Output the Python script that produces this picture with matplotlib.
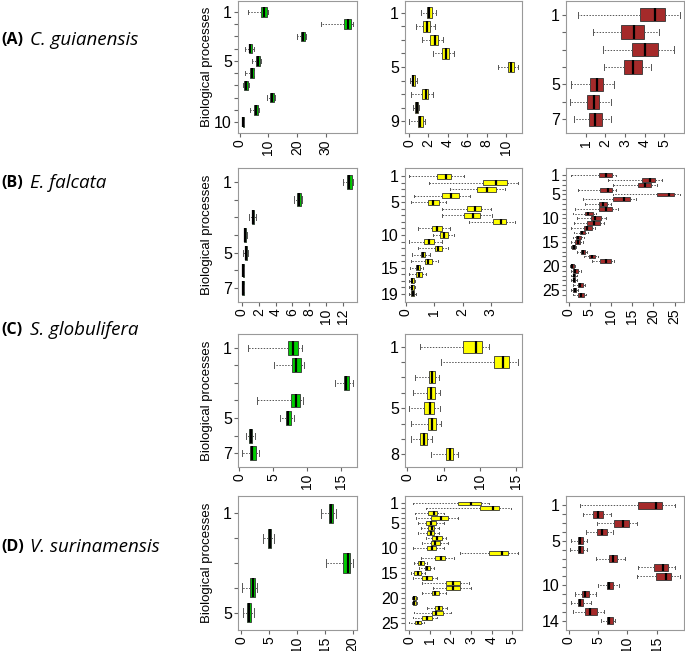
import matplotlib.pyplot as plt

plt.rcParams['font.family'] = ['Liberation Sans', 'DejaVu Sans']

# each row = one biological process: low whisker, Q1, median, Q3, high whisker
A1 = [[2.9, 7.4, 8.5, 9.6, 10.0], [28.2, 36.5, 37.8, 39.0, 39.4], [19.9, 21.5, 22.1, 22.8, 23.2],
      [1.9, 3.1, 3.7, 4.4, 4.9], [4.2, 5.7, 6.3, 7.0, 7.3], [1.9, 3.5, 4.1, 4.8, 5.1],
      [1.0, 1.5, 2.1, 2.7, 3.1], [9.6, 10.4, 11.1, 11.8, 12.3], [3.7, 5.0, 5.7, 6.4, 6.7],
      [0.9, 1.0, 1.2, 1.4, 1.5]]
A2 = [[1.27, 1.83, 2.1, 2.37, 2.77], [0.67, 1.43, 1.83, 2.17, 2.7], [1.37, 2.2, 2.67, 3.0, 3.53],
      [2.5, 3.4, 3.77, 4.13, 4.67], [9.13, 10.2, 10.5, 10.8, 11.2], [0.1, 0.27, 0.4, 0.6, 0.77],
      [0.2, 1.37, 1.7, 1.97, 2.43], [0.4, 0.6, 0.77, 0.93, 1.07], [0.03, 0.9, 1.17, 1.47, 1.63]]
A3 = [[0.62, 3.78, 4.53, 5.05, 5.78], [1.38, 2.8, 3.45, 3.95, 4.75], [1.87, 3.35, 4.03, 4.68, 5.5],
      [1.92, 2.95, 3.4, 3.87, 4.33], [0.25, 1.22, 1.57, 1.87, 2.45], [0.22, 1.05, 1.42, 1.7, 2.3],
      [0.43, 1.15, 1.47, 1.83, 2.3]]

B1 = [[12.0, 12.46, 12.73, 13.05, 13.16], [6.2, 6.6, 6.8, 7.0, 7.1], [0.86, 1.17, 1.33, 1.48, 1.72],
      [0.2, 0.27, 0.39, 0.5, 0.6], [0.08, 0.35, 0.47, 0.6, 0.74], [0.05, 0.08, 0.16, 0.23, 0.27],
      [0.05, 0.06, 0.12, 0.18, 0.22]]
B2 = [[0.12, 1.1, 1.4, 1.6, 2.07], [0.83, 2.73, 3.17, 3.58, 3.95], [1.55, 2.5, 2.86, 3.2, 3.5],
      [0.29, 1.29, 1.6, 1.87, 2.28], [0.19, 0.77, 0.97, 1.17, 1.4], [1.29, 2.16, 2.45, 2.67, 3.0],
      [1.26, 2.07, 2.38, 2.62, 3.06], [2.24, 3.09, 3.35, 3.55, 3.85], [0.44, 0.91, 1.1, 1.28, 1.55],
      [0.97, 1.2, 1.34, 1.49, 1.7], [0.12, 0.64, 0.83, 1.0, 1.26], [0.41, 1.02, 1.14, 1.28, 1.47],
      [0.23, 0.53, 0.62, 0.69, 0.85], [0.19, 0.67, 0.79, 0.92, 1.14], [0.15, 0.34, 0.42, 0.5, 0.62],
      [0.12, 0.36, 0.47, 0.56, 0.7], [0.12, 0.17, 0.21, 0.27, 0.33], [0.12, 0.17, 0.22, 0.27, 0.33],
      [0.12, 0.18, 0.24, 0.3, 0.35]]
B3 = [[0.47, 7.1, 8.7, 10.2, 11.2], [9.2, 17.4, 19.2, 20.5, 22.0], [10.5, 16.4, 18.0, 19.4, 20.9],
      [2.2, 7.5, 9.2, 10.2, 11.2], [10.5, 20.9, 23.7, 24.8, 26.2], [3.4, 10.4, 13.1, 14.5, 15.9],
      [3.9, 7.1, 8.0, 9.0, 10.0], [1.6, 7.1, 8.8, 10.2, 11.6], [1.0, 3.75, 4.5, 5.7, 6.5],
      [2.0, 5.2, 6.1, 7.7, 8.8], [1.25, 4.4, 5.9, 7.3, 8.3], [0.6, 3.6, 4.4, 5.5, 6.3],
      [1.25, 2.6, 3.1, 3.9, 4.5], [1.0, 1.8, 2.3, 2.97, 3.6], [0.6, 1.6, 2.2, 2.7, 3.4],
      [0.47, 0.8, 1.2, 1.6, 1.8], [2.0, 2.8, 3.4, 3.9, 4.4], [3.6, 4.9, 5.5, 6.25, 7.0],
      [5.5, 7.5, 8.8, 10.0, 10.8], [0.4, 0.6, 0.9, 1.25, 1.6], [0.47, 1.0, 1.6, 2.2, 2.8],
      [0.6, 1.0, 1.25, 1.6, 2.0], [0.6, 1.0, 1.25, 1.6, 1.95], [1.0, 2.2, 2.7, 3.4, 3.9],
      [0.6, 1.0, 1.4, 1.8, 2.2], [1.0, 2.2, 2.8, 3.6, 4.1]]

C1 = [[1.37, 7.17, 7.95, 8.68, 9.27], [5.12, 7.76, 8.34, 9.07, 9.5], [14.1, 15.37, 15.76, 16.2, 16.7],
      [2.6, 7.6, 8.44, 8.9, 9.37], [5.95, 6.88, 7.22, 7.66, 8.05], [1.07, 1.41, 1.7, 1.95, 2.3],
      [0.49, 1.56, 1.85, 2.54, 2.93]]
C2 = [[1.7, 7.6, 9.5, 10.3, 11.3], [4.6, 11.9, 13.2, 14.0, 15.2], [1.03, 2.95, 3.4, 3.84, 4.4],
      [0.71, 2.72, 3.3, 3.8, 4.46], [0.27, 2.23, 3.17, 3.7, 4.46], [0.45, 2.9, 3.4, 3.93, 4.6],
      [0.45, 1.79, 2.23, 2.72, 3.35], [3.26, 5.27, 5.94, 6.3, 6.96]]

D1 = [[14.4, 15.8, 16.1, 16.5, 17.0], [3.9, 4.8, 5.1, 5.4, 5.8], [15.3, 18.3, 19.2, 19.6, 20.0],
      [0.18, 1.6, 2.1, 2.5, 2.8], [0.3, 1.0, 1.4, 1.8, 2.3]]
D2 = [[0.19, 2.35, 2.98, 3.49, 3.89], [0.79, 3.46, 4.05, 4.37, 4.97], [0.27, 0.92, 1.22, 1.35, 1.67],
      [0.32, 1.06, 1.54, 1.87, 2.38], [0.4, 0.83, 1.06, 1.32, 1.67], [0.56, 0.9, 1.08, 1.22, 1.43],
      [0.44, 0.84, 1.03, 1.22, 1.43], [0.79, 1.11, 1.35, 1.59, 1.79], [0.63, 1.03, 1.24, 1.51, 1.87],
      [0.16, 0.87, 1.11, 1.3, 1.67], [2.46, 3.86, 4.49, 4.81, 5.27], [0.59, 1.24, 1.56, 1.75, 2.19],
      [0.21, 0.43, 0.56, 0.71, 0.87], [0.48, 0.75, 0.87, 1.0, 1.22], [0.08, 0.21, 0.4, 0.56, 0.76],
      [0.16, 0.63, 0.84, 1.08, 1.35], [0.6, 1.78, 2.11, 2.46, 2.89], [1.14, 1.78, 2.11, 2.46, 2.98],
      [0.6, 1.08, 1.27, 1.46, 1.78], [0.13, 0.16, 0.24, 0.32, 0.37], [0.13, 0.16, 0.24, 0.32, 0.37],
      [0.87, 1.27, 1.43, 1.59, 1.83], [0.21, 1.08, 1.32, 1.63, 2.03], [0.16, 0.6, 0.87, 1.08, 1.35],
      [0.0, 0.27, 0.43, 0.59, 0.71]]
D3 = [[1.85, 11.85, 14.8, 15.9, 18.1], [2.4, 4.2, 5.06, 5.9, 7.2], [4.9, 7.75, 9.3, 10.3, 11.6],
      [3.0, 4.9, 5.7, 6.46, 7.6], [0.34, 1.57, 1.97, 2.4, 3.1], [0.28, 1.57, 1.97, 2.4, 3.1],
      [4.66, 6.8, 7.47, 8.2, 9.55], [11.8, 14.5, 16.0, 17.0, 18.1], [11.6, 14.8, 16.6, 17.5, 18.9],
      [5.06, 6.46, 6.9, 7.47, 8.6], [1.0, 2.3, 2.8, 3.37, 4.66], [0.45, 1.57, 1.97, 2.5, 3.8],
      [0.73, 2.8, 3.7, 4.8, 5.96], [5.5, 6.46, 6.9, 7.47, 7.9]]

SPECIES = ["C. guianensis", "E. falcata", "S. globulifera", "V. surinamensis"]
PANEL_LETTERS = ["(A)", "(B)", "(C)", "(D)"]

GREEN = "#00cd00"
YELLOW = "#ffff00"
BROWN = "#a52a2a"

W, H = 685, 651
COLS = [(238, 357), (405, 522), (566, 684)]
ROWS = [(1, 133), (168, 302), (334, 467), (496, 630)]
LABEL_Y = [40, 183, 330, 547]


def draw_panel(ax, rows, color, xticks, shown):
    n = len(rows)
    stats = [dict(whislo=r[0], q1=r[1], med=r[2], q3=r[3], whishi=r[4]) for r in rows]
    ax.bxp(stats, positions=range(1, n + 1), widths=0.78, orientation='horizontal',
           showfliers=False, patch_artist=True, capwidths=0.35,
           boxprops=dict(facecolor=color, edgecolor='#333333', linewidth=0.6),
           medianprops=dict(color='black', linewidth=1.6),
           whiskerprops=dict(color='#555555', linewidth=0.7, linestyle=(0, (1.5, 1.5))),
           capprops=dict(color='#555555', linewidth=0.7))
    lo = min(r[0] for r in rows)
    hi = max(r[4] for r in rows)
    pad = 0.04 * (hi - lo)
    ax.set_xlim(lo - pad, hi + pad)
    ax.set_ylim(n + 0.5 + 0.04 * n, 0.5 - 0.04 * n)
    ax.set_yticks(range(1, n + 1))
    ax.set_yticklabels([str(i) if i in shown else '' for i in range(1, n + 1)])
    ax.set_xticks(xticks)
    ax.set_xticklabels([str(t) for t in xticks])
    ax.tick_params(axis='y', length=3, labelsize=11.5, pad=1.5, color='#666666')
    ax.tick_params(axis='x', length=3, labelsize=10, pad=1.5, color='#666666', labelrotation=90)
    for s in ax.spines.values():
        s.set_color('#999999')
        s.set_linewidth(0.8)


fig = plt.figure(figsize=(W / 100, H / 100), dpi=100)


def make_ax(r, c):
    (l, rr), (t, b) = COLS[c], ROWS[r]
    return fig.add_axes([l / W, 1 - b / H, (rr - l) / W, (b - t) / H])


panels = [
    (0, 0, A1, GREEN, [0, 10, 20, 30], [1, 5, 10]),
    (0, 1, A2, YELLOW, [0, 2, 4, 6, 8, 10], [1, 5, 9]),
    (0, 2, A3, BROWN, [1, 2, 3, 4, 5], [1, 5, 7]),
    (1, 0, B1, GREEN, [0, 2, 4, 6, 8, 10, 12], [1, 5, 7]),
    (1, 1, B2, YELLOW, [0, 1, 2, 3], [1, 5, 10, 15, 19]),
    (1, 2, B3, BROWN, [0, 5, 10, 15, 20, 25], [1, 5, 10, 15, 20, 25]),
    (2, 0, C1, GREEN, [0, 5, 10, 15], [1, 5, 7]),
    (2, 1, C2, YELLOW, [0, 5, 10, 15], [1, 5, 8]),
    (3, 0, D1, GREEN, [0, 5, 10, 15, 20], [1, 5]),
    (3, 1, D2, YELLOW, [0, 1, 2, 3, 4, 5], [1, 5, 10, 15, 20, 25]),
    (3, 2, D3, BROWN, [0, 5, 10, 15], [1, 5, 10, 14]),
]

for r, c, rows, color, xticks, shown in panels:
    ax = make_ax(r, c)
    draw_panel(ax, rows, color, xticks, shown)
    if c == 0:
        ax.set_ylabel('Biological processes', fontsize=9.5)
        ax.yaxis.set_label_coords(-0.21, 0.5)

for letter, name, y in zip(PANEL_LETTERS, SPECIES, LABEL_Y):
    fig.text(1 / W, 1 - y / H, letter, fontsize=11.5, fontweight='bold', va='center',
             family=['Open Sans', 'DejaVu Sans'])
    fig.text(30 / W, 1 - y / H, name, fontsize=13.5, style='italic', va='center',
             family=['Open Sans', 'DejaVu Sans'])

fig.savefig('out.png', dpi=100)
